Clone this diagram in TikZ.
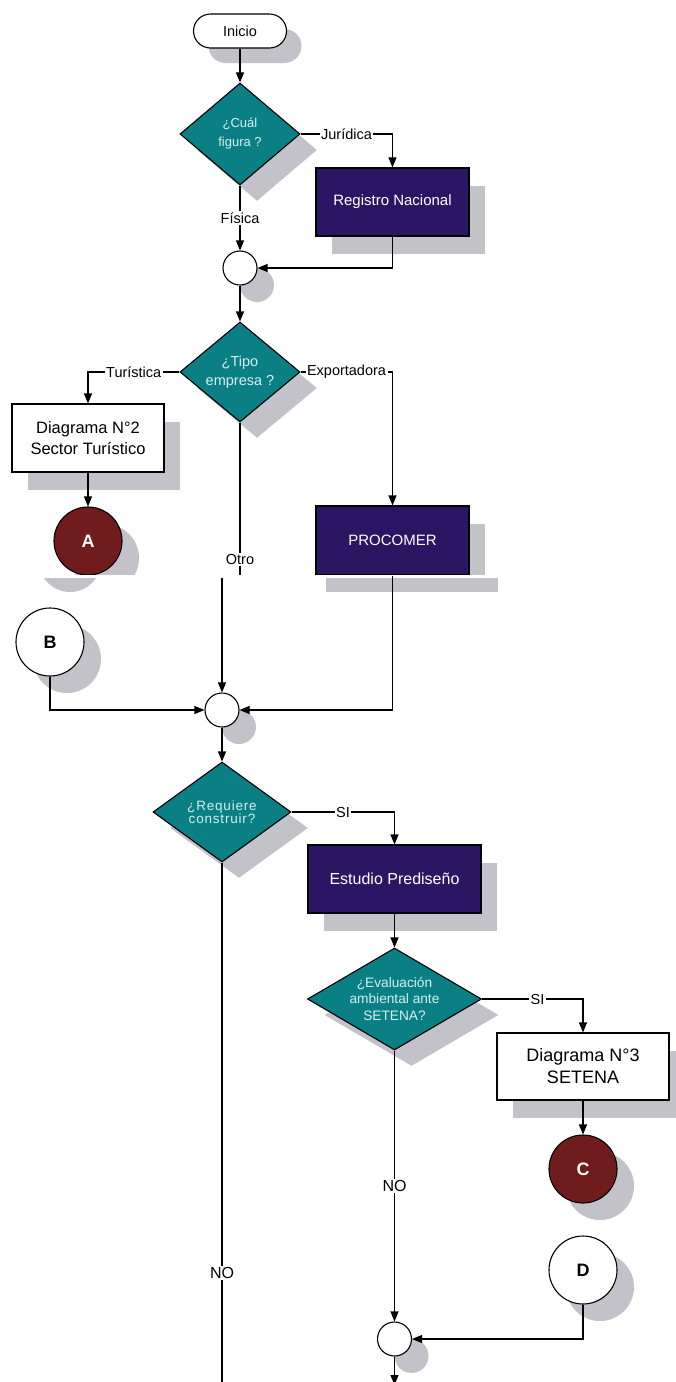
\documentclass[tikz,border=0pt]{standalone}
\usepackage{fontspec}
\setmainfont{Liberation Sans}
\usetikzlibrary{shapes.geometric,arrows.meta,shadows}
\definecolor{teal1}{RGB}{10,128,132}
\definecolor{purp}{RGB}{44,22,100}
\definecolor{dred}{RGB}{112,28,28}
\definecolor{shgray}{RGB}{195,194,200}
\definecolor{dtext}{RGB}{214,238,238}
\begin{document}
\begin{tikzpicture}[x=1pt,y=-1pt,line width=1.1pt,
 arr/.style={-{Triangle[length=10pt,width=8pt]}},
 rsh/.style={general shadow={shadow xshift=16pt,shadow yshift=-18pt,fill=shgray,draw=none}},
 csh/.style={general shadow={shadow xshift=17pt,shadow yshift=-17pt,fill=shgray,draw=none}},
 dsh/.style={general shadow={shadow xshift=17pt,shadow yshift=-16pt,fill=shgray,draw=none}},
 term/.style={rectangle,rounded corners=17pt,draw,fill=white,minimum width=93pt,minimum height=34pt,inner sep=0pt,font=\fontsize{14.5}{14.5}\selectfont,general shadow={shadow xshift=15pt,shadow yshift=-15pt,fill=shgray,draw=none}},
 dec/.style={diamond,draw=black,fill=teal1,text=dtext,inner sep=0pt,align=center,dsh},
 procbox/.style={rectangle,draw,fill=purp,text=white,inner sep=0pt,align=center,rsh},
 docbox/.style={rectangle,draw,fill=white,inner sep=0pt,align=center,rsh},
 con/.style={circle,draw,inner sep=0pt,minimum size=68pt,font=\fontsize{18}{18}\selectfont\bfseries,csh},
 jn/.style={circle,draw,fill=white,inner sep=0pt,minimum size=34pt,csh},
 lab/.style={fill=white,inner sep=1.5pt,font=\fontsize{14.5}{14.5}\selectfont},
 labno/.style={fill=white,inner sep=1.5pt,font=\fontsize{16}{16}\selectfont}]
\useasboundingbox (0,0) rectangle (675,1382);
\fill[white] (0,0) rectangle (675,1382);

% nodes
\node[term] (inicio) at (240,31) {Inicio};
\node[dec,minimum width=120pt,minimum height=102pt,shape aspect=1.18,font=\fontsize{13}{19}\selectfont] (d1) at (240,134) {¿Cuál\\figura ?};
\node[procbox,minimum width=153pt,minimum height=68pt,font=\fontsize{15}{18}\selectfont] (reg) at (392.5,202) {Registro Nacional};
\node[jn] (m1) at (240,268) {};
\node[dec,minimum width=120pt,minimum height=100pt,shape aspect=1.2,font=\fontsize{14.5}{19}\selectfont] (d2) at (240,372) {¿Tipo\\empresa ?};
\node[docbox,minimum width=152pt,minimum height=68pt,font=\fontsize{16.5}{21}\selectfont] (dg2) at (88,438) {Diagrama N°2\\Sector Turístico};
\node[con,fill=dred,text=white] (A) at (88,541) {A};
\node[procbox,minimum width=153pt,minimum height=69pt,font=\fontsize{15}{18}\selectfont] (pc) at (392.5,540.5) {PROCOMER};

% page seam
\fill[white] (0,575) rectangle (675,593);
\fill[shgray] (326,578) rectangle (498,592);
\begin{scope}
\clip (0,578) rectangle (675,600);
\fill[shgray] (70,561) circle (31);
\end{scope}

\node[con,fill=white] (B) at (50,642) {B};
\node[jn] (m2) at (222,710) {};
\node[dec,minimum width=138pt,minimum height=100pt,shape aspect=1.38,font=\fontsize{13.5}{13}\selectfont\addfontfeature{LetterSpace=6}] (d3) at (222,812) {¿Requiere\\construir?};
\node[procbox,minimum width=173pt,minimum height=68pt,font=\fontsize{16}{18}\selectfont] (est) at (394.5,879) {Estudio Prediseño};
\node[dec,minimum width=174pt,minimum height=102pt,shape aspect=1.7,font=\fontsize{13.7}{16.7}\selectfont] (d4) at (394.5,999) {¿Evaluación\\ambiental ante\\SETENA?};
\node[docbox,minimum width=172pt,minimum height=67pt,font=\fontsize{18}{22}\selectfont] (dg3) at (583,1066.5) {Diagrama N°3\\SETENA};
\node[con,fill=dred,text=white] (C) at (583,1169) {C};
\node[con,fill=white] (D) at (583,1270) {D};
\node[jn] (m3) at (394.5,1339) {};

\coordinate (o1) at (240,575);
\coordinate (o2) at (222,578);
\coordinate (e1) at (222,1382);
\coordinate (e2) at (394.5,1385);

% connectors
\draw[arr] (inicio) -- (d1);
\draw[arr] (d1.east) -| node[lab,pos=.25]{Jurídica} (reg.north);
\draw[arr] (d1.south) -- node[lab]{Física} (m1.north);
\draw[arr] (reg.south) |- (m1.east);
\draw[arr] (m1) -- (d2);
\draw[arr] (d2.west) -| node[lab,pos=.25]{Turística} (dg2.north);
\draw[arr] (d2.east) -| node[lab,pos=.25]{Exportadora} (pc.north);
\draw[arr] (dg2) -- (A);
\draw (d2.south) -- node[lab,pos=.9]{Otro} (o1);
\draw[arr] (o2) -- (m2.north);
\draw[arr] (B.south) |- (m2.west);
\draw[arr] (pc.south) |- (m2.east);
\draw[arr] (m2) -- (d3);
\draw[arr] (d3.east) -| node[lab,pos=.25]{SI} (est.north);
\draw[arr] (est) -- (d4);
\draw[arr] (d4.east) -| node[lab,pos=.275]{SI} (dg3.north);
\draw[arr] (dg3) -- (C);
\draw (d3.south) -- node[labno,pos=.79]{NO} (e1);
\draw[arr] (d4.south) -- node[labno]{NO} (m3.north);
\draw[arr] (D.south) |- (m3.east);
\draw[arr] (m3) -- (e2);
\end{tikzpicture}
\end{document}
